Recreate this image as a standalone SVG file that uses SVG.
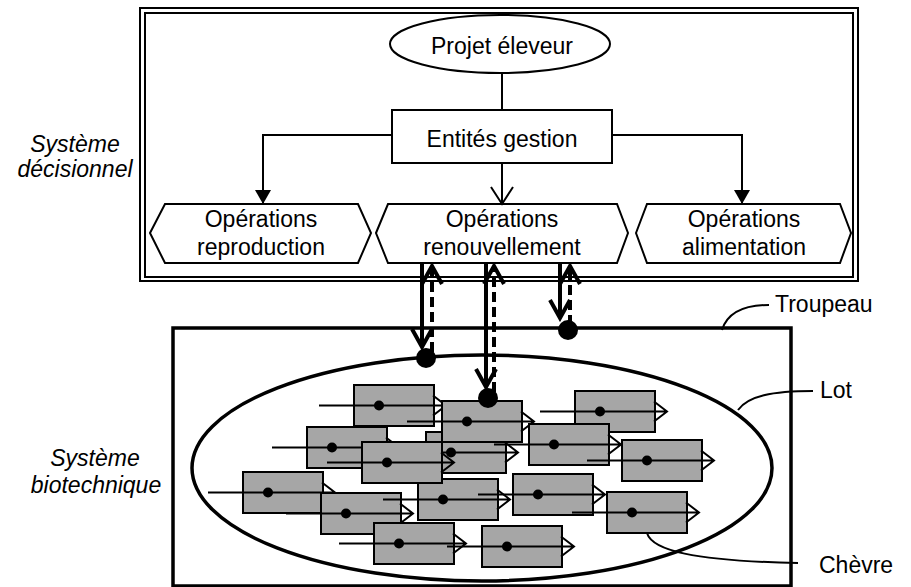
<svg xmlns="http://www.w3.org/2000/svg" xmlns:xlink="http://www.w3.org/1999/xlink" width="911" height="587" viewBox="0 0 911 587">
<style>
text{font-family:"Liberation Sans",Arial,sans-serif;font-size:23px;fill:#000}
.it{font-style:italic}
.box{fill:#fff;stroke:#000;stroke-width:2}
.frame{fill:none;stroke:#000;stroke-width:2}
.thin{fill:none;stroke:#000;stroke-width:2}
.thick{fill:none;stroke:#000;stroke-width:4}
.dash{fill:none;stroke:#000;stroke-width:4;stroke-dasharray:10 5}
.lead{fill:none;stroke:#000;stroke-width:2}
.big{fill:none;stroke:#000;stroke-width:3.5}
.dot{fill:#000}
.gbody{fill:#a6a6a6;stroke:#000;stroke-width:2}
.gline{fill:none;stroke:#000;stroke-width:2}
</style>
<defs>
<marker id="vBig" markerUnits="userSpaceOnUse" viewBox="-24 -14 28 28" markerWidth="28" markerHeight="28" refX="0" refY="0" orient="auto">
<path d="M-18,-10 L0,0 L-18,10" fill="none" stroke="#000" stroke-width="4"/>
</marker>
<marker id="vThin" markerUnits="userSpaceOnUse" viewBox="-22 -14 26 28" markerWidth="26" markerHeight="28" refX="0" refY="0" orient="auto">
<path d="M-17,-11 L0,0 L-17,11" fill="none" stroke="#000" stroke-width="2"/>
</marker>
<marker id="tri" markerUnits="userSpaceOnUse" viewBox="-16 -10 18 20" markerWidth="18" markerHeight="20" refX="0" refY="0" orient="auto">
<path d="M-14,-8 L0,0 L-14,8 Z" fill="#000"/>
</marker>
<g id="goat">
<rect class="gbody" x="0" y="0" width="80" height="41"/>
<path class="gline" d="M-35,20.5 L92,20.5 M79,10.5 L92,20.5 L79,30.5"/>
<circle class="dot" cx="25" cy="20.5" r="5"/>
</g>
</defs>
<rect width="911" height="587" fill="#fff"/>

<g id="systeme-decisionnel-frame">
<rect class="frame" x="140" y="8" width="718" height="273"/>
<rect class="frame" x="145" y="13" width="708" height="264"/>
</g>
<g id="label-decisionnel">
<text class="it" x="75" y="152" text-anchor="middle">Système</text>
<text class="it" x="75" y="177" text-anchor="middle">décisionnel</text>
</g>
<g id="label-biotechnique">
<text class="it" x="95" y="466" text-anchor="middle">Système</text>
<text class="it" x="96" y="493" text-anchor="middle">biotechnique</text>
</g>

<g id="troupeau">
<rect class="big" x="173" y="328" width="618" height="258" stroke-width="3"/>
</g>
<g id="lot">
<ellipse class="big" cx="482" cy="468" rx="290" ry="113"/>
</g>

<g id="goats">
<use id="chevre-4" href="#goat" xlink:href="#goat" x="243" y="472"/>
<use id="chevre-5" href="#goat" xlink:href="#goat" x="321" y="493"/>
<use id="chevre-6" href="#goat" xlink:href="#goat" x="374" y="523"/>
<use id="chevre-2" href="#goat" xlink:href="#goat" x="307" y="427"/>
<use id="chevre-9" href="#goat" xlink:href="#goat" x="426" y="432"/>
<use id="chevre-7" href="#goat" xlink:href="#goat" x="418" y="479"/>
<use id="chevre-3" href="#goat" xlink:href="#goat" x="362" y="442"/>
<use id="chevre-1" href="#goat" xlink:href="#goat" x="354" y="385"/>
<use id="chevre-8" href="#goat" xlink:href="#goat" x="442" y="401"/>
<use id="chevre-11" href="#goat" xlink:href="#goat" x="575" y="391"/>
<use id="chevre-10" href="#goat" xlink:href="#goat" x="529" y="424"/>
<use id="chevre-12" href="#goat" xlink:href="#goat" x="622" y="440"/>
<use id="chevre-13" href="#goat" xlink:href="#goat" x="513" y="474"/>
<use id="chevre-14" href="#goat" xlink:href="#goat" x="607" y="492"/>
<use id="chevre-15" href="#goat" xlink:href="#goat" x="482" y="526"/>
</g>

<g id="projet-eleveur">
<ellipse class="box" cx="500" cy="44" rx="110" ry="29"/>
<text x="502" y="54" text-anchor="middle">Projet éleveur</text>
</g>
<g id="entites-gestion">
<rect class="box" x="392" y="110" width="220" height="53"/>
<text x="502" y="147" text-anchor="middle">Entités gestion</text>
</g>
<g id="operations-reproduction">
<path class="box" d="M150,233 L165,204 L358,204 L371,233 L358,263 L165,263 Z"/>
<text x="261" y="227" text-anchor="middle">Opérations</text>
<text x="261" y="255" text-anchor="middle">reproduction</text>
</g>
<g id="operations-renouvellement">
<path class="box" d="M376,233 L388,204 L617,204 L628,233 L617,263 L388,263 Z"/>
<text x="502" y="227" text-anchor="middle">Opérations</text>
<text x="502" y="255" text-anchor="middle">renouvellement</text>
</g>
<g id="operations-alimentation">
<path class="box" d="M636,233 L647,204 L840,204 L851,233 L840,263 L647,263 Z"/>
<text x="744" y="227" text-anchor="middle">Opérations</text>
<text x="744" y="255" text-anchor="middle">alimentation</text>
</g>

<g id="labels">
<text x="775" y="312">Troupeau</text>
<text x="820" y="398">Lot</text>
<text x="819" y="573">Chèvre</text>
</g>

<g id="connectors">
<path class="thin" d="M502,73 L502,110"/>
<path class="thin" d="M392,135 L263,135 L263,204" marker-end="url(#tri)"/>
<path class="thin" d="M612,135 L742,135 L742,204" marker-end="url(#tri)"/>
<path class="thin" d="M502,163 L502,204" marker-end="url(#vThin)"/>

<path class="thick" d="M422,263 L422,347" marker-end="url(#vBig)"/>
<path class="dash" d="M432,352 L432,266" marker-end="url(#vBig)"/>
<path class="thick" d="M486,263 L486,387" marker-end="url(#vBig)"/>
<path class="dash" d="M494,392 L494,266" marker-end="url(#vBig)"/>
<path class="thick" d="M560,263 L560,318" marker-end="url(#vBig)"/>
<path class="dash" d="M570,325 L570,266" marker-end="url(#vBig)"/>
<circle class="dot" cx="426" cy="358" r="10"/>
<circle class="dot" cx="488" cy="398" r="10"/>
<circle class="dot" cx="568" cy="330" r="10"/>

<path class="lead" d="M722,330 C727,314 742,305 769,305"/>
<path class="lead" d="M738,410 C748,396 772,391 813,391"/>
<path class="lead" d="M647,533 C652,550 692,561 798,563"/>
</g>
</svg>
